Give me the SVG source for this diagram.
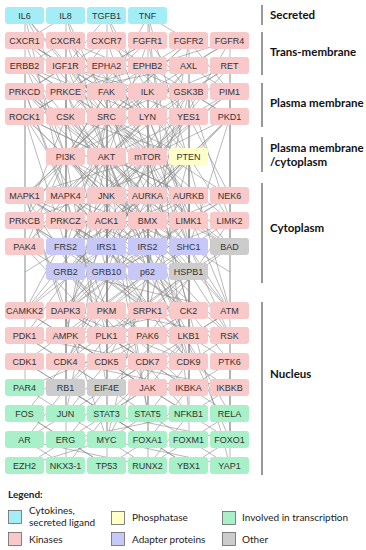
<svg xmlns="http://www.w3.org/2000/svg" width="366" height="550" viewBox="0 0 366 550">
<style>
.e{fill:none;stroke:#8a8a8a;stroke-width:0.6}
.vb{stroke:#7f7f7f;stroke-width:1.6}
.c{fill:#A3EEF6}.k{fill:#F9C8C8}.y{fill:#FFFFC8}.a{fill:#C8C8F8}.o{fill:#CCCCCC}.t{fill:#A8F0C8}
.n text{font-family:"Liberation Sans",Arial,sans-serif;font-size:9px;fill:#333;text-anchor:middle}
.h{font-family:Lato,"Open Sans",sans-serif;font-size:11.5px;font-weight:bold;fill:#111}
.lg{font-family:Lato,"Open Sans",sans-serif;font-size:10px;fill:#222}
.lb{stroke:#666;stroke-width:0.8}
</style>
<rect width="366" height="550" fill="#fff"/>
<g id="connectors">
<path class="e" d="M25 16L66 92M25 16L107 117M25 16L66 196M25 16L148 157M25 16L25 117M66 16L25 41M66 16L107 157M66 16L66 117M66 16L148 196M107 16L66 66M107 16L148 92M107 16L107 196M107 16L189 247M148 16L189 41M148 16L107 92M148 16L148 157M148 16L230 311M148 16L189 414"/>
<path class="e" d="M25 41L66 66M25 41L107 117M25 41L66 157M66 41L25 66M66 41L107 92M66 41L148 117M66 41L107 157M66 41L66 221M107 41L148 66M107 41L66 92M107 41L189 117M107 41L148 157M148 41L107 66M148 41L189 92M148 41L66 117M148 41L107 157M148 41L189 247M189 41L148 66M189 41L230 92M189 41L189 117M189 41L66 157M189 41L148 272M230 41L189 66M230 41L148 92M230 41L230 117M230 41L107 247"/>
<path class="e" d="M25 66L66 92M25 66L107 117M25 66L66 157M25 66L25 196M25 66L148 221M66 66L25 92M66 66L148 92M66 66L107 157M66 66L189 196M66 66L66 272M107 66L66 117M107 66L148 117M107 66L189 157M107 66L107 247M148 66L107 92M148 66L189 117M148 66L66 157M148 66L148 196M189 66L230 92M189 66L148 117M189 66L107 157M189 66L189 247M230 66L189 92M230 66L107 117M230 66L148 157M230 66L230 196"/>
<path class="e" d="M25 92L66 117M25 92L107 157M25 92L66 196M25 92L148 221M25 92L107 311M66 92L25 117M66 92L148 157M66 92L107 196M66 92L66 247M66 92L189 336M107 92L148 117M107 92L66 157M107 92L189 196M107 92L25 221M107 92L148 247M148 92L107 117M148 92L189 157M148 92L66 196M148 92L148 272M189 92L230 117M189 92L107 157M189 92L230 221M189 92L66 311M189 92L189 362M189 92L107 440M230 92L189 117M230 92L148 157M230 92L230 247"/>
<path class="e" d="M25 117L66 157M25 117L107 196M25 117L66 247M25 117L148 311M25 117L25 311M66 117L107 157M66 117L148 196M66 117L25 221M66 117L107 272M107 117L66 157M107 117L148 157M107 117L189 157M107 117L25 196M107 117L189 221M107 117L66 247M107 117L148 247M107 117L107 311M107 117L66 336M148 117L107 157M148 117L66 196M148 117L189 221M148 117L148 272M148 117L230 311M189 117L148 157M189 117L230 196M189 117L107 221M189 117L189 272M230 117L189 157M230 117L148 196M230 117L189 247M230 117L230 311"/>
<path class="e" d="M66 157L25 196M66 157L107 196M66 157L148 221M66 157L66 272M66 157L189 311M66 157L107 388M66 157L25 247M107 157L66 196M107 157L148 196M107 157L189 196M107 157L25 221M107 157L107 247M107 157L148 272M107 157L66 336M107 157L189 362M107 157L148 414M107 157L230 311M107 157L230 440M107 157L107 466M148 157L107 196M148 157L189 221M148 157L66 221M148 157L148 247M148 157L107 272M148 157L25 311M148 157L230 336M148 157L230 466M189 157L148 196M189 157L230 221M189 157L107 221M189 157L189 272M189 157L66 311"/>
<path class="e" d="M25 196L66 221M25 196L107 247M25 196L66 311M25 196L148 388M25 196L107 440M66 196L107 221M66 196L25 247M66 196L148 272M66 196L107 336M107 196L148 221M107 196L66 247M107 196L189 272M107 196L107 311M107 196L148 414M107 196L66 414M148 196L107 221M148 196L189 247M148 196L66 272M148 196L148 336M148 196L189 362M189 196L148 221M189 196L230 247M189 196L107 272M189 196L189 311M230 196L189 221M230 196L148 247M230 196L230 311"/>
<path class="e" d="M25 221L66 247M25 221L107 272M25 221L25 311M66 221L107 247M66 221L148 272M66 221L66 336M107 221L148 247M107 221L66 272M107 221L189 311M107 221L107 362M148 221L107 247M148 221L189 272M148 221L148 311M148 221L66 362M189 221L230 247M189 221L148 272M189 221L189 336M230 221L189 247M230 221L107 272"/>
<path class="e" d="M25 247L66 272M25 247L107 336M66 247L107 272M66 247L148 311M66 247L66 388M107 247L66 272M107 247L148 272M107 247L107 336M107 247L189 362M148 247L107 272M148 247L189 272M148 247L148 336M148 247L66 311M189 247L148 272M189 247L230 311M189 247L189 388M230 247L189 272M230 247L148 311"/>
<path class="e" d="M66 272L25 311M66 272L107 311M66 272L148 336M66 272L66 362M66 272L189 414M107 272L66 311M107 272L148 311M107 272L189 336M107 272L107 388M148 272L107 311M148 272L189 311M148 272L66 336M148 272L148 362M148 272L230 414M189 272L148 311M189 272L230 336M189 272L107 336M189 272L189 388"/>
<path class="e" d="M25 311L66 336M25 311L107 362M25 311L25 388M66 311L107 336M66 311L148 362M66 311L66 414M107 311L148 336M107 311L66 362M107 311L189 388M107 311L107 440M148 311L107 336M148 311L189 362M148 311L148 414M189 311L148 336M189 311L230 362M189 311L107 388M189 311L189 440M230 311L189 336M230 311L148 362M230 311L230 388"/>
<path class="e" d="M25 336L66 362M25 336L107 388M66 336L107 362M66 336L148 388M66 336L66 414M107 336L148 362M107 336L66 388M107 336L189 388M148 336L107 362M148 336L189 362M148 336L148 414M189 336L230 362M189 336L148 388M230 336L189 362M230 336L230 414"/>
<path class="e" d="M25 362L66 388M25 362L107 414M66 362L107 388M66 362L25 414M107 362L148 388M107 362L66 414M107 362L189 414M148 362L107 388M148 362L189 388M148 362L107 440M189 362L230 388M189 362L148 414M230 362L189 388M230 362L230 440"/>
<path class="e" d="M25 388L66 414M66 388L107 414M66 388L25 440M107 388L148 414M107 388L66 440M148 388L107 414M148 388L189 414M148 388L148 440M189 388L230 414M189 388L148 440M230 388L189 414M230 388L230 440"/>
<path class="e" d="M25 414L66 440M25 414L107 466M66 414L25 440M66 414L107 440M66 414L66 466M107 414L148 440M107 414L66 466M107 414L189 466M148 414L107 440M148 414L189 440M148 414L148 466M189 414L230 440M189 414L148 466M230 414L189 440M230 414L230 466M25 440L66 466M25 440L148 466M66 440L107 466M66 440L25 466M107 440L148 466M107 440L230 466M107 440L25 466M148 440L107 466M148 440L189 466M189 440L230 466M189 440L148 466M230 440L189 466"/>
<path class="e" d="M25 41L107 92M25 41L148 117M66 41L189 92M107 41L25 92M148 41L25 117M189 41L107 117M230 41L66 92M25 66L148 117M66 66L189 117M107 66L25 117M148 66L230 117M189 66L66 92M230 66L148 117"/>
<path class="e" d="M25 92L148 196M66 92L230 196M107 92L107 272M148 92L25 196M189 92L66 247M230 92L107 196M25 117L189 196M66 117L230 247M107 117L230 221M148 117L25 247M189 117L66 221M230 117L107 247M25 117L107 157M66 117L189 157M148 117L66 157M189 117L107 157M230 117L148 157"/>
<path class="e" d="M66 157L148 247M66 157L189 272M107 157L25 311M107 157L189 247M148 157L66 247M148 157L189 311M189 157L66 272M189 157L148 311M66 157L230 247M148 157L25 196M189 157L25 221M25 196L148 247M66 196L189 247M107 196L230 272M148 196L25 272M189 196L66 247M230 196L107 247M25 196L189 311M66 196L230 336M148 196L66 362M189 196L107 362"/>
<path class="e" d="M25 221L148 311M66 221L189 311M107 221L25 336M148 221L230 311M189 221L66 311M230 221L148 336M66 247L189 336M107 247L25 311M148 247L230 336M189 247L107 311M66 272L230 311M107 272L25 336M148 272L25 362M189 272L66 362"/>
<path class="e" d="M66 311L189 362M107 311L230 336M148 311L66 388M189 311L66 336M25 336L148 362M148 336L25 388M189 336L107 414M66 362L189 388M107 362L230 388M148 362L66 414M66 388L148 440M148 388L66 440M107 414L230 440M189 414L66 440"/>
</g>
<g id="nodes">
<g id="n-IL6" class="n"><rect class="c" x="5" y="7" width="39" height="17" rx="3"/><text x="24.5" y="19">IL6</text></g>
<g id="n-IL8" class="n"><rect class="c" x="46" y="7" width="39" height="17" rx="3"/><text x="65.5" y="19">IL8</text></g>
<g id="n-TGFB1" class="n"><rect class="c" x="87" y="7" width="39" height="17" rx="3"/><text x="106.5" y="19">TGFB1</text></g>
<g id="n-TNF" class="n"><rect class="c" x="128" y="7" width="39" height="17" rx="3"/><text x="147.5" y="19">TNF</text></g>

<g id="n-CXCR1" class="n"><rect class="k" x="5" y="32" width="39" height="17" rx="3"/><text x="24.5" y="44">CXCR1</text></g>
<g id="n-CXCR4" class="n"><rect class="k" x="46" y="32" width="39" height="17" rx="3"/><text x="65.5" y="44">CXCR4</text></g>
<g id="n-CXCR7" class="n"><rect class="k" x="87" y="32" width="39" height="17" rx="3"/><text x="106.5" y="44">CXCR7</text></g>
<g id="n-FGFR1" class="n"><rect class="k" x="128" y="32" width="39" height="17" rx="3"/><text x="147.5" y="44">FGFR1</text></g>
<g id="n-FGFR2" class="n"><rect class="k" x="169" y="32" width="39" height="17" rx="3"/><text x="188.5" y="44">FGFR2</text></g>
<g id="n-FGFR4" class="n"><rect class="k" x="210" y="32" width="39" height="17" rx="3"/><text x="229.5" y="44">FGFR4</text></g>

<g id="n-ERBB2" class="n"><rect class="k" x="5" y="57" width="39" height="17" rx="3"/><text x="24.5" y="69">ERBB2</text></g>
<g id="n-IGF1R" class="n"><rect class="k" x="46" y="57" width="39" height="17" rx="3"/><text x="65.5" y="69">IGF1R</text></g>
<g id="n-EPHA2" class="n"><rect class="k" x="87" y="57" width="39" height="17" rx="3"/><text x="106.5" y="69">EPHA2</text></g>
<g id="n-EPHB2" class="n"><rect class="k" x="128" y="57" width="39" height="17" rx="3"/><text x="147.5" y="69">EPHB2</text></g>
<g id="n-AXL" class="n"><rect class="k" x="169" y="57" width="39" height="17" rx="3"/><text x="188.5" y="69">AXL</text></g>
<g id="n-RET" class="n"><rect class="k" x="210" y="57" width="39" height="17" rx="3"/><text x="229.5" y="69">RET</text></g>

<g id="n-PRKCD" class="n"><rect class="k" x="5" y="83" width="39" height="17" rx="3"/><text x="24.5" y="95">PRKCD</text></g>
<g id="n-PRKCE" class="n"><rect class="k" x="46" y="83" width="39" height="17" rx="3"/><text x="65.5" y="95">PRKCE</text></g>
<g id="n-FAK" class="n"><rect class="k" x="87" y="83" width="39" height="17" rx="3"/><text x="106.5" y="95">FAK</text></g>
<g id="n-ILK" class="n"><rect class="k" x="128" y="83" width="39" height="17" rx="3"/><text x="147.5" y="95">ILK</text></g>
<g id="n-GSK3B" class="n"><rect class="k" x="169" y="83" width="39" height="17" rx="3"/><text x="188.5" y="95">GSK3B</text></g>
<g id="n-PIM1" class="n"><rect class="k" x="210" y="83" width="39" height="17" rx="3"/><text x="229.5" y="95">PIM1</text></g>

<g id="n-ROCK1" class="n"><rect class="k" x="5" y="108" width="39" height="17" rx="3"/><text x="24.5" y="120">ROCK1</text></g>
<g id="n-CSK" class="n"><rect class="k" x="46" y="108" width="39" height="17" rx="3"/><text x="65.5" y="120">CSK</text></g>
<g id="n-SRC" class="n"><rect class="k" x="87" y="108" width="39" height="17" rx="3"/><text x="106.5" y="120">SRC</text></g>
<g id="n-LYN" class="n"><rect class="k" x="128" y="108" width="39" height="17" rx="3"/><text x="147.5" y="120">LYN</text></g>
<g id="n-YES1" class="n"><rect class="k" x="169" y="108" width="39" height="17" rx="3"/><text x="188.5" y="120">YES1</text></g>
<g id="n-PKD1" class="n"><rect class="k" x="210" y="108" width="39" height="17" rx="3"/><text x="229.5" y="120">PKD1</text></g>

<g id="n-PI3K" class="n"><rect class="k" x="46" y="148" width="39" height="17" rx="3"/><text x="65.5" y="160">PI3K</text></g>
<g id="n-AKT" class="n"><rect class="k" x="87" y="148" width="39" height="17" rx="3"/><text x="106.5" y="160">AKT</text></g>
<g id="n-mTOR" class="n"><rect class="k" x="128" y="148" width="39" height="17" rx="3"/><text x="147.5" y="160">mTOR</text></g>
<g id="n-PTEN" class="n"><rect class="y" x="169" y="148" width="39" height="17" rx="3"/><text x="188.5" y="160">PTEN</text></g>

<g id="n-MAPK1" class="n"><rect class="k" x="5" y="187" width="39" height="17" rx="3"/><text x="24.5" y="199">MAPK1</text></g>
<g id="n-MAPK4" class="n"><rect class="k" x="46" y="187" width="39" height="17" rx="3"/><text x="65.5" y="199">MAPK4</text></g>
<g id="n-JNK" class="n"><rect class="k" x="87" y="187" width="39" height="17" rx="3"/><text x="106.5" y="199">JNK</text></g>
<g id="n-AURKA" class="n"><rect class="k" x="128" y="187" width="39" height="17" rx="3"/><text x="147.5" y="199">AURKA</text></g>
<g id="n-AURKB" class="n"><rect class="k" x="169" y="187" width="39" height="17" rx="3"/><text x="188.5" y="199">AURKB</text></g>
<g id="n-NEK6" class="n"><rect class="k" x="210" y="187" width="39" height="17" rx="3"/><text x="229.5" y="199">NEK6</text></g>

<g id="n-PRKCB" class="n"><rect class="k" x="5" y="212" width="39" height="17" rx="3"/><text x="24.5" y="224">PRKCB</text></g>
<g id="n-PRKCZ" class="n"><rect class="k" x="46" y="212" width="39" height="17" rx="3"/><text x="65.5" y="224">PRKCZ</text></g>
<g id="n-ACK1" class="n"><rect class="k" x="87" y="212" width="39" height="17" rx="3"/><text x="106.5" y="224">ACK1</text></g>
<g id="n-BMX" class="n"><rect class="k" x="128" y="212" width="39" height="17" rx="3"/><text x="147.5" y="224">BMX</text></g>
<g id="n-LIMK1" class="n"><rect class="k" x="169" y="212" width="39" height="17" rx="3"/><text x="188.5" y="224">LIMK1</text></g>
<g id="n-LIMK2" class="n"><rect class="k" x="210" y="212" width="39" height="17" rx="3"/><text x="229.5" y="224">LIMK2</text></g>

<g id="n-PAK4" class="n"><rect class="k" x="5" y="238" width="39" height="17" rx="3"/><text x="24.5" y="250">PAK4</text></g>
<g id="n-FRS2" class="n"><rect class="a" x="46" y="238" width="39" height="17" rx="3"/><text x="65.5" y="250">FRS2</text></g>
<g id="n-IRS1" class="n"><rect class="a" x="87" y="238" width="39" height="17" rx="3"/><text x="106.5" y="250">IRS1</text></g>
<g id="n-IRS2" class="n"><rect class="a" x="128" y="238" width="39" height="17" rx="3"/><text x="147.5" y="250">IRS2</text></g>
<g id="n-SHC1" class="n"><rect class="a" x="169" y="238" width="39" height="17" rx="3"/><text x="188.5" y="250">SHC1</text></g>
<g id="n-BAD" class="n"><rect class="o" x="210" y="238" width="39" height="17" rx="3"/><text x="229.5" y="250">BAD</text></g>

<g id="n-GRB2" class="n"><rect class="a" x="46" y="263" width="39" height="17" rx="3"/><text x="65.5" y="275">GRB2</text></g>
<g id="n-GRB10" class="n"><rect class="a" x="87" y="263" width="39" height="17" rx="3"/><text x="106.5" y="275">GRB10</text></g>
<g id="n-p62" class="n"><rect class="a" x="128" y="263" width="39" height="17" rx="3"/><text x="147.5" y="275">p62</text></g>
<g id="n-HSPB1" class="n"><rect class="o" x="169" y="263" width="39" height="17" rx="3"/><text x="188.5" y="275">HSPB1</text></g>

<g id="n-CAMKK2" class="n"><rect class="k" x="5" y="302" width="39" height="17" rx="3"/><text x="24.5" y="314">CAMKK2</text></g>
<g id="n-DAPK3" class="n"><rect class="k" x="46" y="302" width="39" height="17" rx="3"/><text x="65.5" y="314">DAPK3</text></g>
<g id="n-PKM" class="n"><rect class="k" x="87" y="302" width="39" height="17" rx="3"/><text x="106.5" y="314">PKM</text></g>
<g id="n-SRPK1" class="n"><rect class="k" x="128" y="302" width="39" height="17" rx="3"/><text x="147.5" y="314">SRPK1</text></g>
<g id="n-CK2" class="n"><rect class="k" x="169" y="302" width="39" height="17" rx="3"/><text x="188.5" y="314">CK2</text></g>
<g id="n-ATM" class="n"><rect class="k" x="210" y="302" width="39" height="17" rx="3"/><text x="229.5" y="314">ATM</text></g>

<g id="n-PDK1" class="n"><rect class="k" x="5" y="327" width="39" height="17" rx="3"/><text x="24.5" y="339">PDK1</text></g>
<g id="n-AMPK" class="n"><rect class="k" x="46" y="327" width="39" height="17" rx="3"/><text x="65.5" y="339">AMPK</text></g>
<g id="n-PLK1" class="n"><rect class="k" x="87" y="327" width="39" height="17" rx="3"/><text x="106.5" y="339">PLK1</text></g>
<g id="n-PAK6" class="n"><rect class="k" x="128" y="327" width="39" height="17" rx="3"/><text x="147.5" y="339">PAK6</text></g>
<g id="n-LKB1" class="n"><rect class="k" x="169" y="327" width="39" height="17" rx="3"/><text x="188.5" y="339">LKB1</text></g>
<g id="n-RSK" class="n"><rect class="k" x="210" y="327" width="39" height="17" rx="3"/><text x="229.5" y="339">RSK</text></g>

<g id="n-CDK1" class="n"><rect class="k" x="5" y="353" width="39" height="17" rx="3"/><text x="24.5" y="365">CDK1</text></g>
<g id="n-CDK4" class="n"><rect class="k" x="46" y="353" width="39" height="17" rx="3"/><text x="65.5" y="365">CDK4</text></g>
<g id="n-CDK5" class="n"><rect class="k" x="87" y="353" width="39" height="17" rx="3"/><text x="106.5" y="365">CDK5</text></g>
<g id="n-CDK7" class="n"><rect class="k" x="128" y="353" width="39" height="17" rx="3"/><text x="147.5" y="365">CDK7</text></g>
<g id="n-CDK9" class="n"><rect class="k" x="169" y="353" width="39" height="17" rx="3"/><text x="188.5" y="365">CDK9</text></g>
<g id="n-PTK6" class="n"><rect class="k" x="210" y="353" width="39" height="17" rx="3"/><text x="229.5" y="365">PTK6</text></g>

<g id="n-PAR4" class="n"><rect class="t" x="5" y="379" width="39" height="17" rx="3"/><text x="24.5" y="391">PAR4</text></g>
<g id="n-RB1" class="n"><rect class="o" x="46" y="379" width="39" height="17" rx="3"/><text x="65.5" y="391">RB1</text></g>
<g id="n-EIF4E" class="n"><rect class="o" x="87" y="379" width="39" height="17" rx="3"/><text x="106.5" y="391">EIF4E</text></g>
<g id="n-JAK" class="n"><rect class="k" x="128" y="379" width="39" height="17" rx="3"/><text x="147.5" y="391">JAK</text></g>
<g id="n-IKBKA" class="n"><rect class="k" x="169" y="379" width="39" height="17" rx="3"/><text x="188.5" y="391">IKBKA</text></g>
<g id="n-IKBKB" class="n"><rect class="k" x="210" y="379" width="39" height="17" rx="3"/><text x="229.5" y="391">IKBKB</text></g>

<g id="n-FOS" class="n"><rect class="t" x="5" y="405" width="39" height="17" rx="3"/><text x="24.5" y="417">FOS</text></g>
<g id="n-JUN" class="n"><rect class="t" x="46" y="405" width="39" height="17" rx="3"/><text x="65.5" y="417">JUN</text></g>
<g id="n-STAT3" class="n"><rect class="t" x="87" y="405" width="39" height="17" rx="3"/><text x="106.5" y="417">STAT3</text></g>
<g id="n-STAT5" class="n"><rect class="t" x="128" y="405" width="39" height="17" rx="3"/><text x="147.5" y="417">STAT5</text></g>
<g id="n-NFKB1" class="n"><rect class="t" x="169" y="405" width="39" height="17" rx="3"/><text x="188.5" y="417">NFKB1</text></g>
<g id="n-RELA" class="n"><rect class="t" x="210" y="405" width="39" height="17" rx="3"/><text x="229.5" y="417">RELA</text></g>

<g id="n-AR" class="n"><rect class="t" x="5" y="431" width="39" height="17" rx="3"/><text x="24.5" y="443">AR</text></g>
<g id="n-ERG" class="n"><rect class="t" x="46" y="431" width="39" height="17" rx="3"/><text x="65.5" y="443">ERG</text></g>
<g id="n-MYC" class="n"><rect class="t" x="87" y="431" width="39" height="17" rx="3"/><text x="106.5" y="443">MYC</text></g>
<g id="n-FOXA1" class="n"><rect class="t" x="128" y="431" width="39" height="17" rx="3"/><text x="147.5" y="443">FOXA1</text></g>
<g id="n-FOXM1" class="n"><rect class="t" x="169" y="431" width="39" height="17" rx="3"/><text x="188.5" y="443">FOXM1</text></g>
<g id="n-FOXO1" class="n"><rect class="t" x="210" y="431" width="39" height="17" rx="3"/><text x="229.5" y="443">FOXO1</text></g>

<g id="n-EZH2" class="n"><rect class="t" x="5" y="457" width="39" height="17" rx="3"/><text x="24.5" y="469">EZH2</text></g>
<g id="n-NKX3-1" class="n"><rect class="t" x="46" y="457" width="39" height="17" rx="3"/><text x="65.5" y="469">NKX3-1</text></g>
<g id="n-TP53" class="n"><rect class="t" x="87" y="457" width="39" height="17" rx="3"/><text x="106.5" y="469">TP53</text></g>
<g id="n-RUNX2" class="n"><rect class="t" x="128" y="457" width="39" height="17" rx="3"/><text x="147.5" y="469">RUNX2</text></g>
<g id="n-YBX1" class="n"><rect class="t" x="169" y="457" width="39" height="17" rx="3"/><text x="188.5" y="469">YBX1</text></g>
<g id="n-YAP1" class="n"><rect class="t" x="210" y="457" width="39" height="17" rx="3"/><text x="229.5" y="469">YAP1</text></g>
</g>
<g id="compartments">
<line class="vb" x1="262" y1="5" x2="262" y2="25"/>
<line class="vb" x1="262" y1="32" x2="262" y2="75"/>
<line class="vb" x1="262" y1="83" x2="262" y2="127"/>
<line class="vb" x1="262" y1="137" x2="262" y2="172"/>
<line class="vb" x1="262" y1="183" x2="262" y2="283"/>
<line class="vb" x1="262" y1="302" x2="262" y2="475"/>
<text class="h" x="270" y="19">Secreted</text>
<text class="h" x="270" y="56">Trans-membrane</text>
<text class="h" x="270" y="107">Plasma membrane</text>
<text class="h" x="270" y="152">Plasma membrane</text>
<text class="h" x="270" y="166">/cytoplasm</text>
<text class="h" x="270" y="232">Cytoplasm</text>
<text class="h" x="270" y="378">Nucleus</text>
</g>
<g id="legend">
<text class="lg" x="8" y="498" font-weight="bold">Legend:</text>
<rect class="lb c" x="8.5" y="510.5" width="13" height="13"/>
<text class="lg" x="29" y="514">Cytokines,</text>
<text class="lg" x="29" y="526">secreted ligand</text>
<rect class="lb k" x="8.5" y="532.5" width="13" height="13"/>
<text class="lg" x="29" y="542.5">Kinases</text>
<rect class="lb y" x="111.5" y="511.5" width="13" height="13"/>
<text class="lg" x="132" y="521">Phosphatase</text>
<rect class="lb a" x="111.5" y="532.5" width="13" height="13"/>
<text class="lg" x="132" y="542.5">Adapter proteins</text>
<rect class="lb t" x="222.5" y="511.5" width="13" height="13"/>
<text class="lg" x="242" y="521">Involved in transcription</text>
<rect class="lb o" x="222.5" y="532.5" width="13" height="13"/>
<text class="lg" x="242" y="542.5">Other</text>
</g>
</svg>
